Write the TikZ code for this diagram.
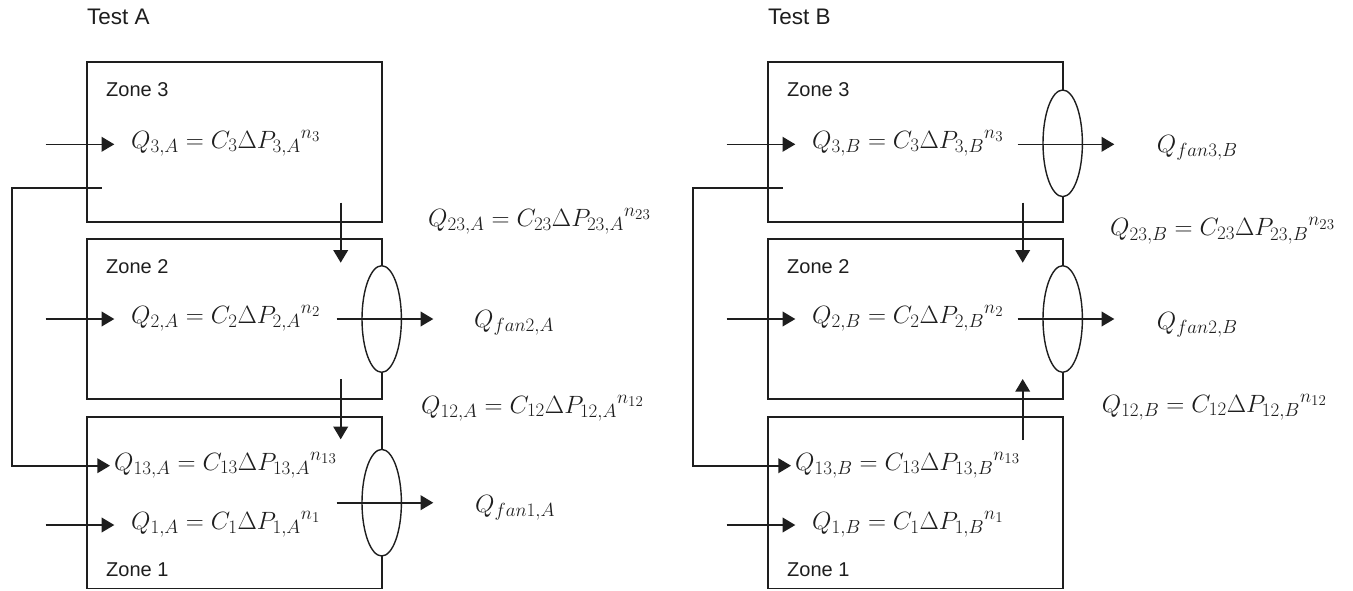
\RequirePackage{fix-cm}
\documentclass[tikz,border=0pt]{standalone}
\usepackage[no-math]{fontspec}
\setmainfont{Liberation Sans}
\usetikzlibrary{arrows.meta,shapes.geometric}
% larger indices for the flow equations
\DeclareMathSizes{25}{25}{19}{15}
\definecolor{ink}{HTML}{1E1E1E}
\tikzset{
  zonebox/.style={draw=ink, line width=1.6pt, minimum width=295pt, inner sep=0pt},
  fan/.style={ellipse, draw=ink, fill=white, line width=1.4pt,
              minimum width=39.4pt, minimum height=106.6pt, inner sep=0pt},
  flow/.style={draw=ink, line width=1.6pt, -{Triangle[length=12.7pt,width=14.7pt]}},
  zonelabel/.style={anchor=west, inner sep=0pt, text=ink, font=\fontsize{20}{24}\selectfont},
  testlabel/.style={anchor=west, inner sep=0pt, text=ink, font=\fontsize{22.5}{26}\selectfont},
  eq/.style={anchor=base west, inner sep=0pt, text=ink, font=\fontsize{25}{30}\selectfont},
}
\begin{document}
\begin{tikzpicture}[x=1pt, y=-1pt]
\useasboundingbox (0,0) rectangle (1353,590);

% ================= Test A =================
\node[testlabel] (testA) at (87,17.3) {Test A};

\node[zonebox, minimum height=159.7pt] (z3A) at (234.2,141.85) {};
\node[zonebox, minimum height=160pt]   (z2A) at (234.2,319) {};
\node[zonebox, minimum height=171.6pt] (z1A) at (234.2,502.5) {};

\node[zonelabel] (lz3A) at (106,90)  {Zone 3};
\node[zonelabel] (lz2A) at (106,267) {Zone 2};
\node[zonelabel] (lz1A) at (106,570) {Zone 1};

\node[eq] (q3A)  at (131,148)   {$Q_{3,A} = C_3\Delta {P_{3,A}}^{n_3}$};
\node[eq] (q2A)  at (131,323.5) {$Q_{2,A} = C_2\Delta {P_{2,A}}^{n_2}$};
\node[eq] (q13A) at (114,470)   {$Q_{13,A} = C_{13}\Delta {P_{13,A}}^{n_{13}}$};
\node[eq] (q1A)  at (131,529.5) {$Q_{1,A} = C_1\Delta {P_{1,A}}^{n_1}$};

\node[eq] (q23A)   at (428,226.5) {$Q_{23,A} = C_{23}\Delta {P_{23,A}}^{n_{23}}$};
\node[eq] (qf2A)   at (474,327)   {$Q_{fan2,A}$};
\node[eq] (q12A)   at (421,413)   {$Q_{12,A} = C_{12}\Delta {P_{12,A}}^{n_{12}}$};
\node[eq] (qf1A)   at (475,512)   {$Q_{fan1,A}$};

% fans on the right walls
\node[fan] (fan2A) at (381.7,319) {};
\node[fan] (fan1A) at (381.7,502.7) {};

% outdoor inlets
\coordinate (in3A) at (45.7,144.3);  \coordinate (t3A) at (114.3,144.3);
\coordinate (in2A) at (45.7,319);    \coordinate (t2A) at (114.3,319);
\coordinate (in1A) at (45.7,525);    \coordinate (t1A) at (114.3,525);
\draw[flow] (in3A) -- (t3A);
\draw[flow] (in2A) -- (t2A);
\draw[flow] (in1A) -- (t1A);

% zone 3 to zone 1 path
\coordinate (b0A) at (101.7,187.7);
\coordinate (b1A) at (11.7,187.7);
\coordinate (b2A) at (11.7,465.7);
\coordinate (b3A) at (110,465.7);
\draw[flow] (b0A) -- (b1A) -- (b2A) -- (b3A);

% inter-zone flows
\coordinate (s32A) at (340.7,202.7); \coordinate (e32A) at (340.7,262.7);
\coordinate (s21A) at (340.7,379);   \coordinate (e21A) at (340.7,439.3);
\draw[flow] (s32A) -- (e32A);
\draw[flow] (s21A) -- (e21A);

% fan exhaust
\coordinate (o2A) at (336.7,319);   \coordinate (x2A) at (433.3,319);
\coordinate (o1A) at (336.7,502.7); \coordinate (x1A) at (433.3,502.7);
\draw[flow] (o2A) -- (x2A);
\draw[flow] (o1A) -- (x1A);

% ================= Test B =================
\node[testlabel] (testB) at (768,17.3) {Test B};

\node[zonebox, minimum height=159.7pt] (z3B) at (915.2,141.85) {};
\node[zonebox, minimum height=160pt]   (z2B) at (915.2,319) {};
\node[zonebox, minimum height=171.6pt] (z1B) at (915.2,502.5) {};

\node[zonelabel] (lz3B) at (787,90)  {Zone 3};
\node[zonelabel] (lz2B) at (787,267) {Zone 2};
\node[zonelabel] (lz1B) at (787,570) {Zone 1};

\node[eq] (q3B)  at (812,148)   {$Q_{3,B} = C_3\Delta {P_{3,B}}^{n_3}$};
\node[eq] (q2B)  at (812,323.5) {$Q_{2,B} = C_2\Delta {P_{2,B}}^{n_2}$};
\node[eq] (q13B) at (795,470)   {$Q_{13,B} = C_{13}\Delta {P_{13,B}}^{n_{13}}$};
\node[eq] (q1B)  at (812,529.5) {$Q_{1,B} = C_1\Delta {P_{1,B}}^{n_1}$};

\node[eq] (qf3B) at (1156.7,152)   {$Q_{fan3,B}$};
\node[eq] (q23B) at (1110,235.7)   {$Q_{23,B} = C_{23}\Delta {P_{23,B}}^{n_{23}}$};
\node[eq] (qf2B) at (1156.7,329)   {$Q_{fan2,B}$};
\node[eq] (q12B) at (1101.7,412)   {$Q_{12,B} = C_{12}\Delta {P_{12,B}}^{n_{12}}$};

\node[fan] (fan3B) at (1062.7,143.3) {};
\node[fan] (fan2B) at (1062.7,319) {};

\coordinate (in3B) at (726.7,144.3); \coordinate (t3B) at (795.3,144.3);
\coordinate (in2B) at (726.7,319);   \coordinate (t2B) at (795.3,319);
\coordinate (in1B) at (726.7,525);   \coordinate (t1B) at (795.3,525);
\draw[flow] (in3B) -- (t3B);
\draw[flow] (in2B) -- (t2B);
\draw[flow] (in1B) -- (t1B);

\coordinate (b0B) at (782.7,187.7);
\coordinate (b1B) at (692.7,187.7);
\coordinate (b2B) at (692.7,465.7);
\coordinate (b3B) at (791,465.7);
\draw[flow] (b0B) -- (b1B) -- (b2B) -- (b3B);

\coordinate (s32B) at (1022.7,202.7); \coordinate (e32B) at (1022.7,262.7);
\coordinate (s12B) at (1022.7,440);   \coordinate (e12B) at (1022.7,379);
\draw[flow] (s32B) -- (e32B);
\draw[flow] (s12B) -- (e12B);

\coordinate (o3B) at (1017.7,144.3); \coordinate (x3B) at (1114.3,144.3);
\coordinate (o2B) at (1017.7,319);   \coordinate (x2B) at (1114.3,319);
\draw[flow] (o3B) -- (x3B);
\draw[flow] (o2B) -- (x2B);
\end{tikzpicture}
\end{document}
